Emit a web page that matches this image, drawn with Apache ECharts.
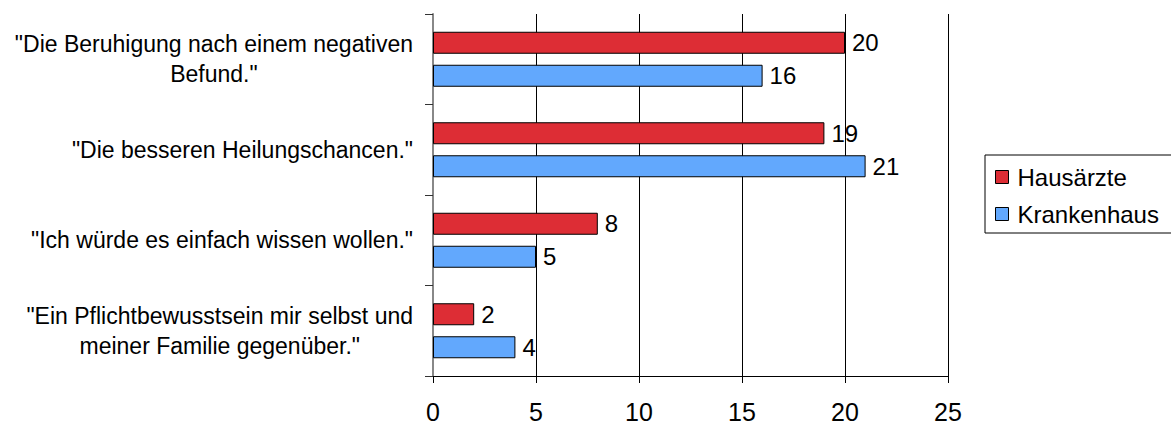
<!DOCTYPE html>
<html>
<head>
<meta charset="utf-8">
<script src="https://cdn.jsdelivr.net/npm/echarts@6/dist/echarts.min.js"></script>
<style>
  html, body { margin: 0; padding: 0; background: #fff; }
  #eChart { width: 1171px; height: 426px; }
</style>
</head>
<body>
<div id="eChart"></div>
<script>
const categories = [
  '"Die Beruhigung nach einem negativen\nBefund."',
  '"Die besseren Heilungschancen."',
  '"Ich würde es einfach wissen wollen."',
  '"Ein Pflichtbewusstsein mir selbst und\nmeiner Familie gegenüber."',
];
const seriesNames = ["Hausärzte", "Krankenhaus"];
const hausaerzte = [20, 19, 8, 2];
const krankenhaus = [16, 21, 5, 4];
const xTicks = { min: 0, max: 25, interval: 5 };

const font = "'Liberation Sans', Arial, sans-serif";

function barSeries(name, data, color) {
  return {
    name: name,
    type: "bar",
    data: data,
    barWidth: 22,
    barGap: "50%",
    itemStyle: {
      color: color,
      borderColor: "#000",
      borderWidth: 1,
    },
    label: {
      show: true,
      position: "right",
      distance: 7,
      color: "#000",
      fontSize: 24,
      fontFamily: font,
    },
  };
}

const opts = {
  animation: false,
  backgroundColor: "#fff",
  grid: { left: 433, right: 223, top: 14, bottom: 50 },
  legend: {
    orient: "vertical",
    left: 985,
    top: 155,
    icon: "rect",
    itemWidth: 13,
    itemHeight: 13,
    itemGap: 13,
    padding: [10, 14, 7, 10],
    borderColor: "#000",
    borderWidth: 1,
    itemStyle: { borderColor: "#000", borderWidth: 1 },
    textStyle: { fontSize: 24, fontFamily: font, color: "#000", padding: [0, 0, 0, 4] },
    data: seriesNames,
  },
  xAxis: {
    type: "value",
    min: xTicks.min,
    max: xTicks.max,
    interval: xTicks.interval,
    axisLine: { show: true, lineStyle: { color: "#000", width: 1 } },
    axisTick: { show: true, length: 7, lineStyle: { color: "#000" } },
    axisLabel: { margin: 23, fontSize: 25, fontFamily: font, color: "#000" },
    splitLine: { show: true, lineStyle: { color: "#000", width: 1 } },
  },
  yAxis: {
    type: "category",
    inverse: true,
    data: categories,
    axisLine: { show: true, lineStyle: { color: "#888", width: 2 } },
    axisTick: { show: true, length: 8, lineStyle: { color: "#333" } },
    axisLabel: {
      margin: 20,
      color: "#000",
      fontSize: 23,
      fontFamily: font,
      lineHeight: 30,
      formatter: function (value) {
        return value.split("\n").map(function (l) { return "{c|" + l + "}"; }).join("\n");
      },
      rich: {
        c: { align: "center", fontSize: 23, lineHeight: 30, fontFamily: font, color: "#000" },
      },
    },
  },
  series: [
    barSeries(seriesNames[0], hausaerzte, "#DD2D35"),
    barSeries(seriesNames[1], krankenhaus, "#62A8FD"),
  ],
};

const myChart = echarts.init(document.getElementById("eChart"), null, { renderer: "svg" });
myChart.setOption(opts);
</script>
</body>
</html>
